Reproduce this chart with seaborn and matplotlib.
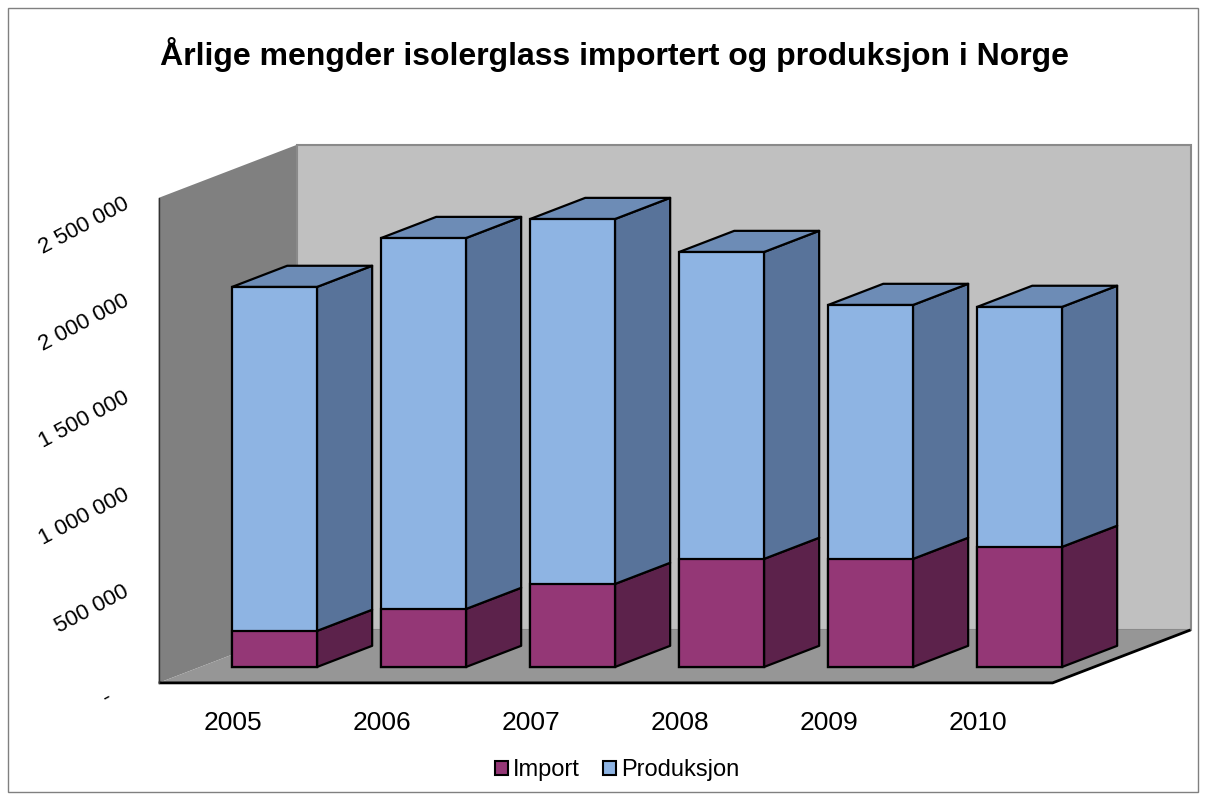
import numpy as np
import pandas as pd
import matplotlib
matplotlib.use("Agg")
import matplotlib.pyplot as plt
import seaborn as sns
from matplotlib.patches import Polygon, Patch, Rectangle

years = ["2005", "2006", "2007", "2008", "2009", "2010"]
import_t = [186000, 299000, 428000, 557000, 557000, 619000]
produksjon = [1773000, 1912000, 1881000, 1582000, 1309000, 1237000]
y_ticks = [0, 500000, 1000000, 1500000, 2000000, 2500000]

df = pd.DataFrame({"year": years, "Import": import_t, "Produksjon": produksjon})
df["total"] = df["Import"] + df["Produksjon"]

# colours (front, side, top)
prod_front, prod_side, prod_top = "#8eb4e3", "#58739a", "#6d8cb6"
imp_front, imp_side = "#943776", "#5c224b"

sns.set_style("white")
plt.rcParams["font.family"] = ["Liberation Sans", "DejaVu Sans"]
plt.rcParams["text.color"] = "black"

fig = plt.figure(figsize=(12.06, 8), dpi=100)
ax = fig.add_axes([0, 0, 1, 1])

# oblique "3D": full floor depth as data offsets, bars sit between F0 and F1
DX, DY = 0.926, 273000
F0, F1 = 0.30, 0.70
W = 0.57
YMAX = 2500000
n = len(years)

x0 = -0.5 - F0 * DX
x1 = n - 0.5 - F0 * DX
y0 = -F0 * DY

left_wall = [(x0, y0), (x0 + DX, y0 + DY), (x0 + DX, y0 + DY + YMAX), (x0, y0 + YMAX)]
back_wall = [(x0 + DX, y0 + DY), (x1 + DX, y0 + DY), (x1 + DX, y0 + DY + YMAX), (x0 + DX, y0 + DY + YMAX)]
floor = [(x0, y0), (x1, y0), (x1 + DX, y0 + DY), (x0 + DX, y0 + DY)]
ax.add_patch(Polygon(left_wall, closed=True, facecolor="#808080", edgecolor="none", zorder=0.5))
ax.add_patch(Polygon(back_wall, closed=True, facecolor="#c0c0c0", edgecolor="#8a8a8a", lw=1.5, zorder=0.5))
ax.add_patch(Polygon(floor, closed=True, facecolor="#969696", edgecolor="none", zorder=0.6))
ax.plot([x0, x1, x1 + DX], [y0, y0, y0 + DY], color="black", lw=2, zorder=0.7, solid_capstyle="butt")
ax.plot([x0, x0], [y0, y0 + YMAX], color="#333333", lw=1, zorder=0.7)

sns.barplot(data=df, x="year", y="total", color=prod_front, width=W, saturation=1,
            edgecolor="black", linewidth=1.6, errorbar=None, ax=ax, zorder=3)
sns.barplot(data=df, x="year", y="Import", color=imp_front, width=W, saturation=1,
            edgecolor="black", linewidth=1.6, errorbar=None, ax=ax, zorder=3)

ox, oy = (F1 - F0) * DX, (F1 - F0) * DY
for i in range(n):
    imp = df["Import"][i]
    tot = df["total"][i]
    r = i + W / 2
    l = i - W / 2
    for b, t, c in [(0, imp, imp_side), (imp, tot, prod_side)]:
        ax.add_patch(Polygon([(r, b), (r + ox, b + oy), (r + ox, t + oy), (r, t)], closed=True,
                             facecolor=c, edgecolor="black", lw=1.6, joinstyle="round", zorder=2.5))
    ax.add_patch(Polygon([(l, tot), (l + ox, tot + oy), (r + ox, tot + oy), (r, tot)], closed=True,
                         facecolor=prod_top, edgecolor="black", lw=1.6, joinstyle="round", zorder=2.5))

# tick labels along the front edge
for v in y_ticks:
    lab = "-   " if v == 0 else f"{v:,.0f}".replace(",", " ")
    ax.annotate(lab, (x0, v + y0), xytext=(-31, -5), textcoords="offset pixels",
                rotation=28, rotation_mode="anchor", ha="right", va="center", fontsize=16)
for i, yr in enumerate(years):
    ax.annotate(yr, (i - F0 * DX, y0), xytext=(0, -40), textcoords="offset pixels",
                ha="center", va="center", fontsize=19)

ax.set_xlim(-274.5 / 149, (1206 - 274.5) / 149)
ax.set_ylim(-(800 - 667) / 194 * 1e6, 667 / 194 * 1e6)
ax.set_axis_off()

fig.text(614 / 1206, 1 - 55 / 800, "Årlige mengder isolerglass importert og produksjon i Norge",
         ha="center", va="center", fontsize=23, fontweight="bold")

handles = [Patch(facecolor=imp_front, edgecolor="black", lw=1.5, label="Import"),
           Patch(facecolor=prod_front, edgecolor="black", lw=1.5, label="Produksjon")]
fig.legend(handles=handles, loc="center", bbox_to_anchor=(617 / 1206, 1 - 770 / 800), ncol=2,
           frameon=False, fontsize=17, handlelength=0.55, handleheight=0.55,
           handletextpad=0.2, columnspacing=1.0)

fig.add_artist(Rectangle((8 / 1206, 8 / 800), 1190 / 1206, 784 / 800, transform=fig.transFigure,
                         fill=False, edgecolor="#808080", lw=1))

fig.savefig("out.png", dpi=100)
